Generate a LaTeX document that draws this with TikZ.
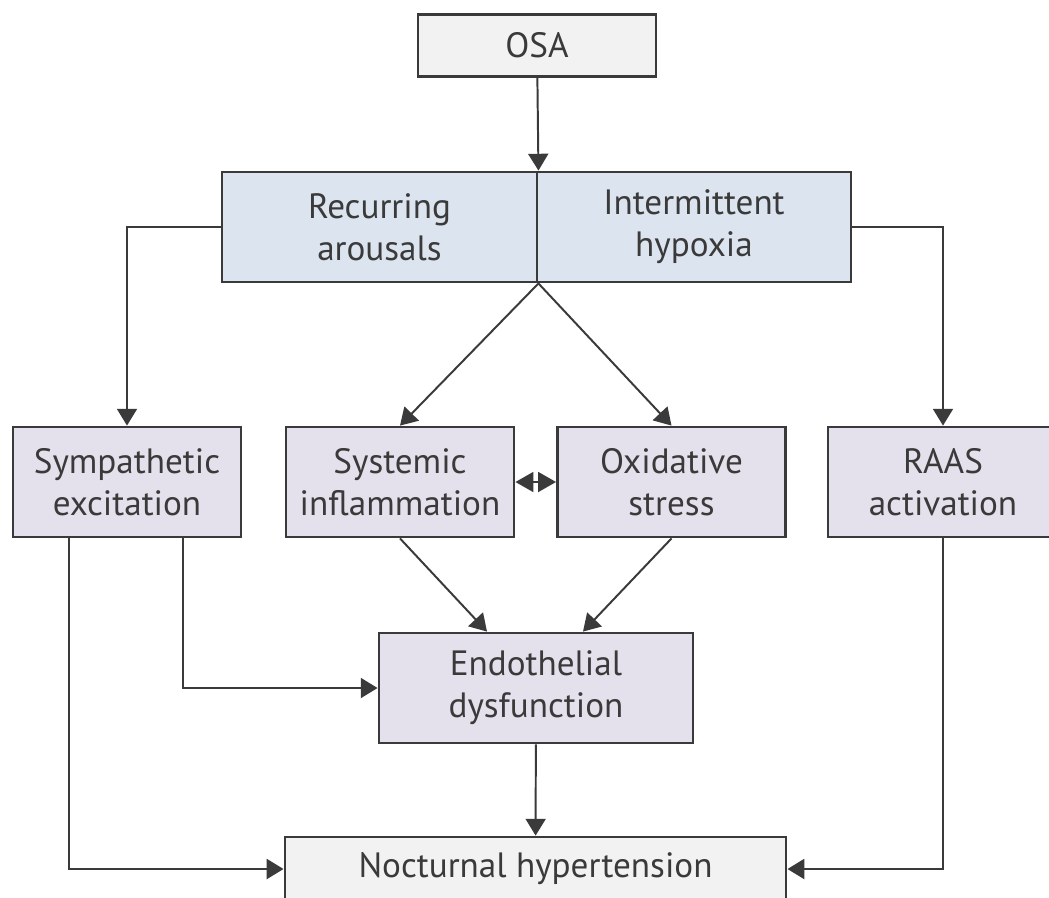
\documentclass[tikz,border=0pt]{standalone}
\usepackage{fontspec}
\setmainfont{PT Sans}
\usepackage{tikz}
\usetikzlibrary{arrows.meta, calc}

\definecolor{boxgray}{HTML}{F2F2F2}
\definecolor{boxblue}{HTML}{DCE4EF}
\definecolor{boxlilac}{HTML}{E5E1EC}
\definecolor{edgegray}{HTML}{3A3A3A}

\begin{document}
\begin{tikzpicture}[x=0.025cm, y=-0.025cm,
    every node/.style={font=\fontsize{25}{30}\selectfont, text=edgegray},
    box/.style={draw=edgegray, line width=2pt, align=center, inner sep=0pt, minimum height=2.75cm},
    cause/.style={box, fill=boxblue, minimum width=7.85cm},
    effect/.style={box, fill=boxlilac, minimum width=5.7cm},
    endpoint/.style={box, fill=boxgray, minimum height=1.55cm},
    link/.style={draw=edgegray, line width=1.4pt, -{Triangle[length=0.42cm, width=0.5cm]}},
    both/.style={link, {Triangle[length=0.45cm, width=0.5cm]}-{Triangle[length=0.45cm, width=0.5cm]}}]

    \useasboundingbox (0, 0) rectangle (1049, 897);
    \clip (0, 0) rectangle (1049, 897);

    \node[endpoint, minimum width=5.95cm] (osa) at (537, 45.5) {OSA};

    \node[cause, minimum width=7.875cm] (arousals) at (379.5, 227) {Recurring\\arousals};
    \node[cause] (hypoxia) at (694, 227) {Intermittent\\hypoxia};

    \node[effect] (symp) at (127, 482) {Sympathetic\\excitation};
    \node[effect] (infl) at (400, 482) {Systemic\\inflammation};
    \node[effect] (oxid) at (671.5, 482) {Oxidative\\stress};
    \node[effect, minimum width=5.75cm] (raas) at (943, 482) {RAAS\\activation};

    \node[effect, minimum width=7.85cm] (endo) at (536, 688) {Endothelial\\dysfunction};

    \node[endpoint, minimum width=12.525cm, minimum height=1.6cm] (noct) at (535.5, 869) {Nocturnal hypertension};

    % from OSA to the two mechanisms
    \draw[link] (osa) -- (arousals.north east);
    \draw[link] (arousals.west) -| (symp.north);
    \draw[link] (hypoxia.east) -| (raas.north);
    \draw[link] (arousals.south east) -- (infl.north);
    \draw[link] (arousals.south east) -- (oxid.north);
    \draw[both] (infl) -- (oxid);

    % towards the endothelium
    \draw[link] (infl.south) -- ($(endo.north)+(-49, 0)$);
    \draw[link] (oxid.south) -- ($(endo.north)+(47, 0)$);
    \draw[link] ($(symp.south)+(56, 0)$) |- (endo.west);

    % towards hypertension
    \draw[link] ($(symp.south)+(-58, 0)$) |- (noct.west);
    \draw[link] (raas.south) |- (noct.east);
    \draw[link] (endo) -- (noct);
\end{tikzpicture}
\end{document}
